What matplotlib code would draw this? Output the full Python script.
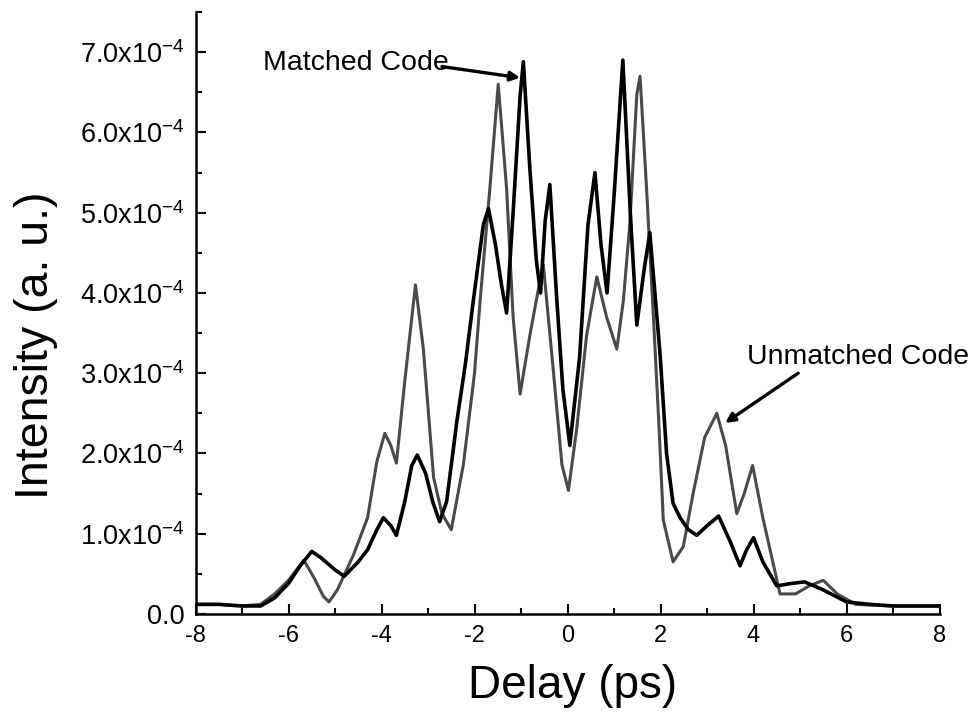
import numpy as np
import matplotlib
matplotlib.use("Agg")
import matplotlib.pyplot as plt
from matplotlib.ticker import FuncFormatter, MultipleLocator

plt.rcParams["font.family"] = ["Liberation Sans", "DejaVu Sans"]
plt.rcParams["mathtext.fontset"] = "custom"
plt.rcParams["mathtext.rm"] = "Liberation Sans"
plt.rcParams["mathtext.it"] = "Liberation Sans:italic"
plt.rcParams["mathtext.bf"] = "Liberation Sans:bold"
plt.rcParams["axes.unicode_minus"] = False

# delay (ps) and intensity (x1e-4 a.u.)
matched_t = [-8, -7.5, -7, -6.6, -6.3, -6.0, -5.75, -5.5, -5.3, -5.0, -4.8, -4.5, -4.3,
             -4.1, -3.96, -3.8, -3.68, -3.5, -3.35, -3.23, -3.05, -2.9, -2.75, -2.6,
             -2.38, -2.2, -2.02, -1.81, -1.7, -1.55, -1.42, -1.31, -1.17, -1.02, -0.95,
             -0.81, -0.67, -0.58, -0.48, -0.38, -0.24, -0.1, 0.05, 0.26, 0.44, 0.59,
             0.72, 0.85, 1.0, 1.19, 1.35, 1.49, 1.65, 1.77, 1.99, 2.13, 2.27, 2.42,
             2.6, 2.78, 3.0, 3.25, 3.5, 3.71, 3.85, 4.0, 4.2, 4.5, 4.8, 5.1, 5.5,
             6.0, 6.5, 7.0, 8.0]
matched_v = [0.12, 0.12, 0.1, 0.1, 0.2, 0.38, 0.6, 0.78, 0.7, 0.55, 0.47, 0.65, 0.8,
             1.05, 1.2, 1.1, 0.98, 1.4, 1.85, 1.98, 1.75, 1.4, 1.15, 1.4,
             2.4, 3.1, 3.93, 4.85, 5.05, 4.6, 4.1, 3.75, 5.0, 6.45, 6.88,
             5.55, 4.4, 4.0, 4.9, 5.35, 4.0, 2.8, 2.1, 3.2, 4.85, 5.5,
             4.6, 4.0, 5.2, 6.9, 5.0, 3.6, 4.3, 4.75, 3.24, 2.0, 1.38, 1.2,
             1.05, 0.98, 1.1, 1.22, 0.9, 0.6, 0.8, 0.95, 0.65, 0.35, 0.38, 0.4, 0.3,
             0.15, 0.12, 0.1, 0.1]

unmatched_t = [-8, -7.5, -7, -6.6, -6.3, -6.0, -5.67, -5.45, -5.25, -5.13, -4.95, -4.6,
               -4.3, -4.1, -3.93, -3.8, -3.68, -3.5, -3.27, -3.1, -2.88, -2.7, -2.5,
               -2.24, -2.0, -1.88, -1.67, -1.49, -1.31, -1.17, -1.02, -0.81, -0.59,
               -0.52, -0.3, -0.12, 0.02, 0.2, 0.41, 0.63, 0.84, 1.06, 1.2, 1.34, 1.49,
               1.56, 1.7, 1.85, 1.96, 2.06, 2.27, 2.49, 2.7, 2.95, 3.21, 3.4, 3.64,
               3.8, 3.98, 4.2, 4.57, 4.9, 5.2, 5.5, 5.8, 6.2, 7.0, 8.0]
unmatched_v = [0.12, 0.12, 0.1, 0.12, 0.25, 0.42, 0.67, 0.45, 0.22, 0.15, 0.3, 0.74,
               1.2, 1.9, 2.25, 2.1, 1.88, 2.9, 4.1, 3.3, 1.7, 1.25, 1.05,
               1.86, 3.0, 3.9, 5.3, 6.6, 5.3, 3.7, 2.74, 3.47, 4.16,
               4.35, 3.0, 1.86, 1.54, 2.32, 3.47, 4.2, 3.7, 3.3, 3.9, 4.86, 6.47,
               6.7, 5.3, 3.67, 2.42, 1.17, 0.65, 0.84, 1.5, 2.2, 2.5, 2.1, 1.25,
               1.5, 1.85, 1.2, 0.25, 0.25, 0.35, 0.42, 0.25, 0.12, 0.1, 0.1]

scale = 1e-4

fig = plt.figure(figsize=(9.8, 7.21), dpi=100)
ax = fig.add_axes([0.1995, 0.1484, 0.7592, 0.835])

ax.plot(unmatched_t, np.array(unmatched_v) * scale, color="#4a4a4a", lw=2.2)
ax.plot(matched_t, np.array(matched_v) * scale, color="black", lw=2.6)

ax.set_xlim(-8, 8)
ax.set_ylim(0, 7.5e-4)
ax.xaxis.set_major_locator(MultipleLocator(2))
ax.xaxis.set_minor_locator(MultipleLocator(1))
ax.yaxis.set_major_locator(MultipleLocator(1e-4))
ax.yaxis.set_minor_locator(MultipleLocator(0.5e-4))


def yfmt(v, pos):
    n = v / 1e-4
    if abs(n) < 1e-9:
        return "0.0"
    return r"%.1fx10$^{-4}$" % n


ax.yaxis.set_major_formatter(FuncFormatter(yfmt))

for s in ["top", "right"]:
    ax.spines[s].set_visible(False)
for s in ["left", "bottom"]:
    ax.spines[s].set_linewidth(1.8)

ax.tick_params(axis="both", which="major", direction="in", length=7, width=1.5)
ax.tick_params(axis="both", which="minor", direction="in", length=4.5, width=1.5)
ax.tick_params(axis="x", labelsize=17, pad=8)
ax.tick_params(axis="y", labelsize=19.5, pad=8)

fig.text(36 / 980, 1 - 345 / 721, "Intensity (a. u.)", rotation=90,
         ha="center", va="center", fontsize=33.5)
fig.text(573 / 980, 1 - 686 / 721, "Delay (ps)", ha="center", va="center",
         fontsize=33)

ax.text(-6.55, 6.78e-4, "Matched Code", fontsize=20.5, ha="left", va="baseline")
ax.annotate("", xy=(-1.02, 6.68e-4), xytext=(-2.70, 6.82e-4),
            arrowprops=dict(arrowstyle="-|>", lw=2.4, color="black",
                            mutation_scale=14, shrinkA=0, shrinkB=0))
ax.text(3.86, 3.12e-4, "Unmatched Code", fontsize=20.5, ha="left",
        va="baseline", clip_on=False)
ax.annotate("", xy=(3.39, 2.38e-4), xytext=(4.96, 3.0e-4),
            arrowprops=dict(arrowstyle="-|>", lw=2.4, color="black",
                            mutation_scale=14, shrinkA=0, shrinkB=0))

fig.savefig("out.png", dpi=100)
